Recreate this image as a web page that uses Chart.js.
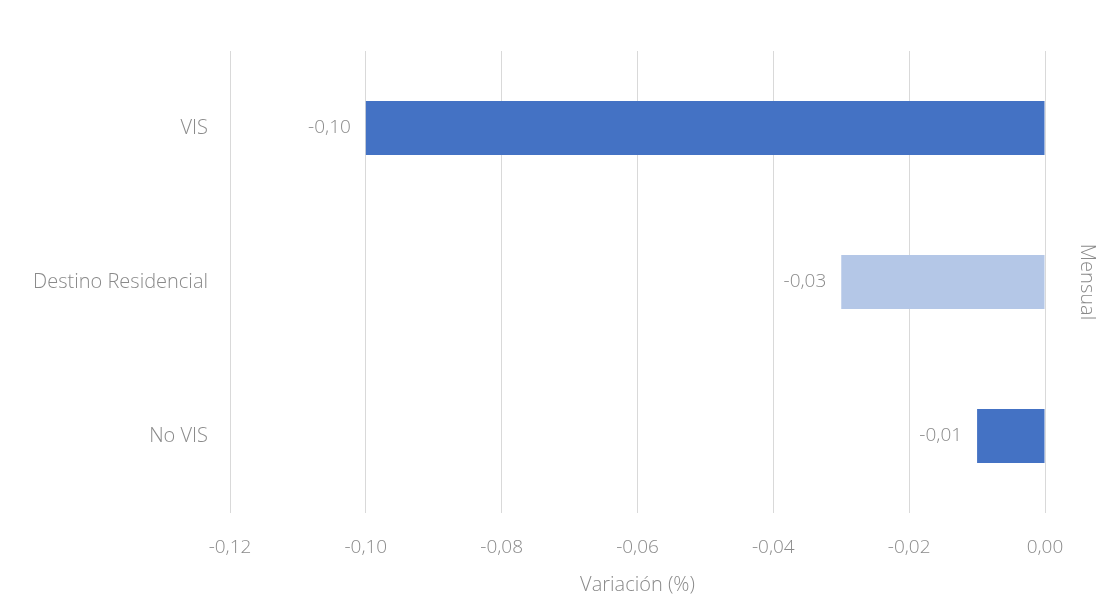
<!DOCTYPE html>
<html>
<head>
<meta charset="utf-8">
<script src="https://cdn.jsdelivr.net/npm/chart.js@4/dist/chart.umd.min.js"></script>
<style>
  html, body { margin: 0; padding: 0; background: #fff; }
  #wrap { width: 1099px; height: 608px; }
</style>
</head>
<body>
<div id="wrap"><canvas id="chart"></canvas></div>
<script>
'use strict';

/* ---- data ---- */
const categories = ['VIS', 'Destino Residencial', 'No VIS'];
const variacion  = [-0.10, -0.03, -0.01];
const barColors  = ['#4472C4', '#B4C7E7', '#4472C4'];
const xTicks     = [-0.12, -0.10, -0.08, -0.06, -0.04, -0.02, 0.00];

const TEXT = '#8a8a8a';
const FONT = "'Open Sans', 'Segoe UI', sans-serif";

function fmt(v) {
  const s = Math.abs(v) < 1e-9 ? '0.00' : v.toFixed(2);
  return s.replace('.', ',');
}

// value labels drawn to the left of each bar end
const barLabels = {
  id: 'barLabels',
  afterDatasetsDraw(chart) {
    const ctx = chart.ctx;
    const meta = chart.getDatasetMeta(0);
    ctx.save();
    ctx.font = `300 19px ${FONT}`;
    ctx.fillStyle = TEXT;
    ctx.textAlign = 'right';
    ctx.textBaseline = 'middle';
    meta.data.forEach((bar, i) => {
      ctx.fillText(fmt(variacion[i]), bar.x - 15, bar.y);
    });
    ctx.restore();
  }
};

new Chart(document.getElementById('chart'), {
  type: 'bar',
  data: {
    labels: categories,
    datasets: [{
      data: variacion,
      backgroundColor: barColors,
      borderWidth: 0,
      barPercentage: 0.7,
      categoryPercentage: 0.5,
    }]
  },
  options: {
    indexAxis: 'y',
    responsive: true,
    maintainAspectRatio: false,
    animation: false,
    layout: { padding: { top: 51, left: 0, right: 0, bottom: 0 } },
    plugins: { legend: { display: false }, tooltip: { enabled: false } },
    scales: {
      x: {
        min: -0.12,
        max: 0,
        afterBuildTicks: scale => { scale.ticks = xTicks.map(v => ({ value: v })); },
        afterFit: scale => { scale.height = 95; },
        ticks: {
          color: TEXT,
          font: { family: FONT, size: 19, weight: 300 },
          padding: 23,
          callback: v => fmt(v),
        },
        grid: { color: '#d9d9d9', lineWidth: 1, drawTicks: false },
        border: { display: false },
        title: {
          display: true,
          text: 'Variación (%)',
          color: TEXT,
          font: { family: FONT, size: 20, weight: 300 },
          padding: { top: 0, bottom: 11 },
        }
      },
      y: {
        afterFit: scale => { scale.width = 230; },
        ticks: {
          color: TEXT,
          font: { family: FONT, size: 20, weight: 300 },
          padding: 22,
        },
        grid: { display: false, drawTicks: false },
        border: { display: false },
      },
      y2: {
        type: 'category',
        position: 'right',
        labels: categories,
        afterFit: scale => { scale.width = 54; },
        ticks: { display: false },
        grid: { display: false, drawTicks: false },
        border: { display: false },
        title: {
          display: true,
          text: 'Mensual',
          color: TEXT,
          font: { family: FONT, size: 20, weight: 300 },
          padding: { top: 0, bottom: 0 },
        }
      }
    }
  },
  plugins: [barLabels]
});
</script>
</body>
</html>
